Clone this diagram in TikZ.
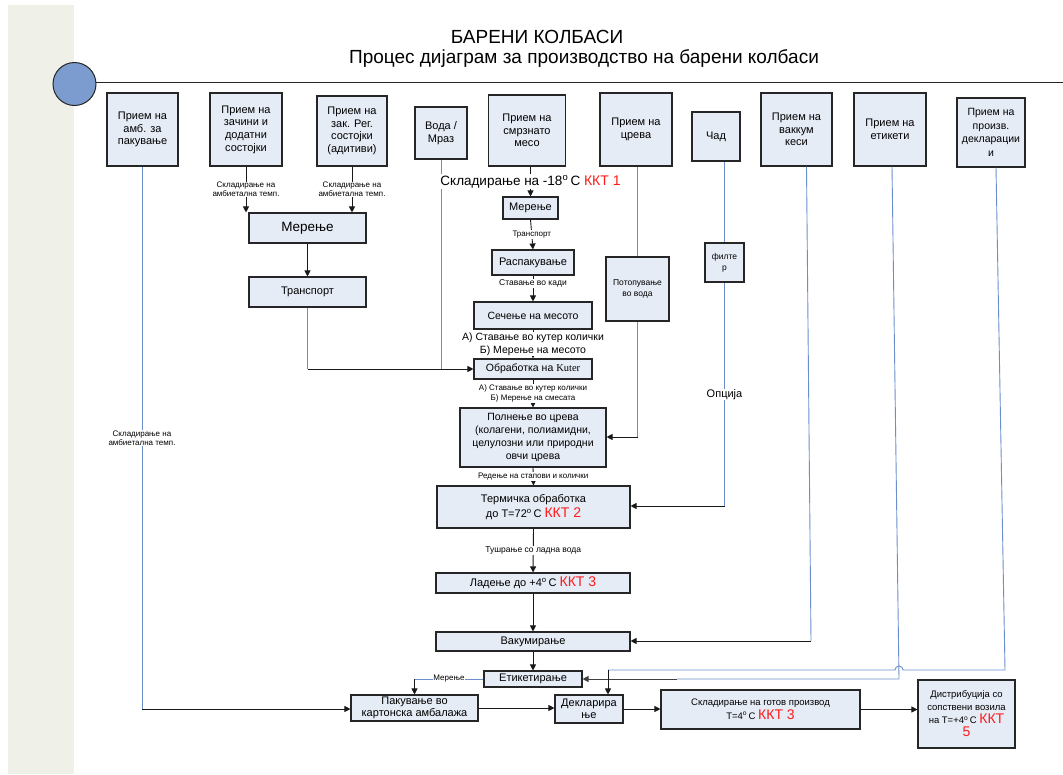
\documentclass[tikz,border=0pt]{standalone}
\usepackage{fontspec}
\setmainfont{Liberation Sans}
\newfontfamily\serifk{Liberation Serif}
\usetikzlibrary{arrows.meta,calc}
\definecolor{boxfill}{HTML}{E6ECF6}
\definecolor{linkblue}{HTML}{6A8FCB}
\definecolor{stripgray}{HTML}{EFF0E8}
\definecolor{circfill}{HTML}{7C9CCF}
\definecolor{kkt}{HTML}{FF1A1A}
\newcommand\myfs[2]{\fontsize{#1}{#2}\selectfont}
\newcommand\kkt[1]{{\color{kkt}\fontsize{14}{15}\selectfont #1}}
\newcommand\dg{\textsuperscript{o}}

\begin{document}
\begin{tikzpicture}[x=1pt,y=-1pt,
  box/.style={draw=black!85, fill=boxfill, line width=1.1pt, align=center, inner sep=1pt},
  arr/.style={draw=black!90, line width=0.9pt, -{Triangle[length=6pt,width=6pt]}},
  feed/.style={draw=linkblue, line width=0.9pt},
  lbl/.style={fill=white, inner sep=0.5pt, align=center},
  ft/.style={font=\myfs{#1}{1.2*#1}},
  ftop/.style={font=\myfs{11}{12.7}},
  fsmall/.style={font=\myfs{8}{9}},
]
\useasboundingbox (0,0) rectangle (1063,774);

% page decoration
\fill[stripgray] (8,5) rectangle (74,774);
\draw[line width=1pt, black!85] (74,82) -- (1063,82);
\node[circle, draw=black!85, line width=1pt, fill=circfill, minimum size=43pt, inner sep=0pt] (dot) at (74.5,84) {};

% titles
\node[font=\myfs{19}{22}] (title) at (537,37) {БАРЕНИ КОЛБАСИ};
\node[font=\myfs{19}{22}] (subtitle) at (584,59) {Процес дијаграм за производство на барени колбаси};

% incoming materials
\node[box, ftop, minimum width=71pt, minimum height=73pt] (b1) at (142.5,129.5) {Прием на\\амб. за\\пакување};
\node[box, ftop, minimum width=72pt, minimum height=73pt] (b2) at (246,129.5) {Прием на\\зачини и\\додатни\\состојки};
\node[box, ftop, minimum width=70pt, minimum height=70pt] (b3) at (352,131) {Прием на\\зак. Рег.\\состојки\\(адитиви)};
\node[box, ftop, minimum width=52pt, minimum height=52pt] (b4) at (441,133) {Вода /\\Мраз};
\node[box, ftop, minimum width=77pt, minimum height=71pt] (b5) at (527,130.5) {Прием на\\смрзнато\\месо};
\node[box, ftop, minimum width=72pt, minimum height=73pt] (b6) at (636,129.5) {Прием на\\црева};
\node[box, ftop, minimum width=48pt, minimum height=49pt] (b7) at (716,136.5) {Чад};
\node[box, ftop, minimum width=71pt, minimum height=73pt] (b8) at (796.5,129.5) {Прием на\\ваккум\\кеси};
\node[box, ftop, minimum width=72pt, minimum height=73pt] (b9) at (890,129.5) {Прием на\\етикети};
\node[box, font=\myfs{10.5}{13.5}, minimum width=68pt, minimum height=69pt] (b10) at (991,132.5) {Прием на\\произв.\\декларации\\и};

% spices branch
\node[box, font=\myfs{13.5}{15}, minimum width=117pt, minimum height=30pt] (m0) at (307.5,228) {Мерење};
\node[box, ftop, minimum width=117pt, minimum height=30pt] (t0) at (307.5,292) {Транспорт};

% main line
\node[box, ftop, minimum width=55pt, minimum height=22pt] (m1) at (530.5,208) {Мерење};
\node[box, ftop, minimum width=82pt, minimum height=25pt] (r) at (533,262.5) {Распакување};
\node[box, font=\myfs{10.5}{13}, minimum width=118pt, minimum height=27pt] (s) at (533,315.5) {Сечење на месото};
\node[box, font=\myfs{10.5}{13}, minimum width=118pt, minimum height=20pt] (k) at (533,369) {Обработка на {\serifk Kuter}};
\node[box, font=\myfs{10.5}{13.2}, minimum width=146pt, minimum height=59pt] (p) at (533,437.5) {Полнење во црева\\(колагени, полиамидни,\\целулозни или природни\\овчи црева};
\node[box, font=\myfs{11}{14.5}, minimum width=193pt, minimum height=42pt] (th) at (533.5,507) {Термичка обработка\\до Т=72\dg\,С \kkt{ККТ 2}};
\node[box, ftop, minimum width=194pt, minimum height=20pt] (l) at (533,583) {Ладење до +4\dg\,С \kkt{ККТ 3}};
\node[box, ftop, minimum width=194pt, minimum height=19pt] (v) at (533,641.5) {Вакумирање};
\node[box, ftop, minimum width=98pt, minimum height=16pt] (e) at (533,679) {Етикетирање};
\node[box, font=\myfs{11}{12}, minimum width=127pt, minimum height=26pt] (pk) at (414.5,708) {Пакување во\\картонска амбалажа};
\node[box, font=\myfs{11}{12}, minimum width=68pt, minimum height=28pt] (d) at (589,709) {Декларира\\ње};
\node[box, font=\myfs{9.5}{14}, minimum width=199pt, minimum height=39pt] (sg) at (760.5,709.5) {Складирање на готов производ\\Т=4\dg\,С \kkt{ККТ 3}};
\node[box, font=\myfs{9.5}{13}, minimum width=97pt, minimum height=68pt] (ds) at (966.5,714) {Дистрибуција со\\сопствени возила\\на Т=+4\dg\,С \kkt{ККТ}\\\kkt{5}};

% side treatments
\node[box, font=\myfs{8.5}{11}, minimum width=63pt, minimum height=64pt] (pt) at (637.5,289) {Потопување\\во вода};
\node[box, font=\myfs{8.5}{11}, minimum width=39pt, minimum height=39pt] (f) at (724.5,262.5) {филте\\р};

% packaging material line
\coordinate (c1) at (142,709);
\draw[feed] (b1.south -| c1) -- node[lbl, fsmall]{Складирање на\\амбиетална темп.} (c1);
\draw[arr] (c1) -- (c1 -| pk.west);

% spices and additives
\draw[arr] (b2.south) -- node[lbl, fsmall]{Складирање на\\амбиетална темп.} (b2.south |- m0.north);
\draw[arr] (b3.south) -- node[lbl, fsmall]{Складирање на\\амбиетална темп.} (b3.south |- m0.north);
\draw[arr] (m0.south) -- (t0.north);
\coordinate (c2) at (307.5,369);
\draw[feed] (t0.south) -- (c2);
\draw[arr] (c2) -- (c2 -| k.west);
\draw[feed] (b4.south) -- (b4.south |- c2);

% meat processing
\draw[arr] (b5.south -| m1.north) -- node[lbl, font=\myfs{13.5}{15}]{Складирање на -18\dg\,С \kkt{ККТ 1}} (m1.north);
\draw[arr] (m1.south) -- node[lbl, fsmall]{Транспорт} (r.north);
\draw[arr] (r.south) -- node[lbl, pos=0.3, font=\myfs{8.5}{10}]{Ставање во кади} (s.north);
\draw[arr] (s.south) -- node[lbl, font=\myfs{10.5}{13}]{А) Ставање во кутер колички\\Б) Мерење на месото} (k.north);
\draw[arr] (k.south) -- node[lbl, font=\myfs{8}{10.5}]{А) Ставање во кутер колички\\Б) Мерење на смесата} (p.north);

% casings
\coordinate (c3) at (637.5,437);
\draw[feed] (pt.north |- b6.south) -- (pt.north);
\draw[feed] (pt.south) -- (c3);
\draw[arr] (c3) -- (c3 -| p.east);
\draw[arr] (p.south) -- node[lbl, fsmall]{Редење на стапови и колички} (th.north);

% smoke
\coordinate (c4) at (724.5,506);
\draw[feed] (b7.south -| f.north) -- (f.north);
\draw[feed] (f.south) -- node[lbl, ftop]{Опција} (c4);
\draw[arr] (c4) -- (c4 -| th.east);

\draw[arr] (th.south) -- node[lbl, font=\myfs{8.5}{10}]{Тушрање со ладна вода} (l.north);
\draw[arr] (l.south) -- (v.north);

% vacuum bags
\coordinate (c5) at (811,641);
\draw[feed] ($(b8.south)+(10,0)$) -- (c5);
\draw[arr] (c5) -- (c5 -| v.east);
\draw[arr] (v.south) -- (e.north);

% labelling to packing
\coordinate (c6) at (414.5,679);
\draw[feed] (e.west) -- node[lbl, fsmall]{Мерење} (c6);
\draw[arr] (c6) -- (pk.north);

% labels supply
\coordinate (c7) at (899,679);
\coordinate (c8) at (677,679);
\draw[feed] ($(b9.south)+(2,0)$) -- (c7) -- (c8);
\draw[arr, draw=black!75] (c8) -- (c8 -| e.east);

% declarations supply, hopping over the labels line
\coordinate (c9) at (1005,670);
\coordinate (c10) at (608,670);
\draw[feed] ($(b10.south)+(5,0)$) -- (c9) -- ($(c7 |- c9)+(4,0)$) arc[start angle=0, end angle=-180, radius=4] -- (c10);
\draw[arr] (c10) -- (c10 |- d.north);

% dispatch
\draw[arr] (pk.east) -- (pk.east -| d.west);
\draw[arr] (d.east) -- (d.east -| sg.west);
\draw[arr] (sg.east) -- (sg.east -| ds.west);
\end{tikzpicture}
\end{document}
